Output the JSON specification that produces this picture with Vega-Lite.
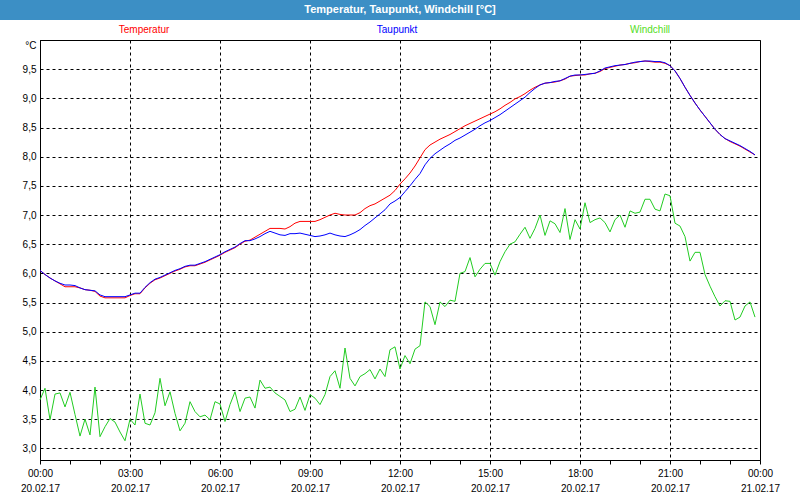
{
  "$schema": "https://vega.github.io/schema/vega-lite/v6.json",
  "background": "white",
  "padding": 0,
  "bounds": "flush",
  "center": true,
  "spacing": 0,
  "config": {"font": "Liberation Sans"},
  "datasets": {
    "messwerte": [
      {"zeit":"2017-02-20T00:00Z","Temperatur":6.05,"Taupunkt":6.05,"Windchill":3.83},
      {"zeit":"2017-02-20T00:10Z","Temperatur":5.98,"Taupunkt":5.98,"Windchill":4.03},
      {"zeit":"2017-02-20T00:20Z","Temperatur":5.92,"Taupunkt":5.92,"Windchill":3.49},
      {"zeit":"2017-02-20T00:30Z","Temperatur":5.87,"Taupunkt":5.87,"Windchill":3.93},
      {"zeit":"2017-02-20T00:40Z","Temperatur":5.82,"Taupunkt":5.83,"Windchill":3.95},
      {"zeit":"2017-02-20T00:50Z","Temperatur":5.77,"Taupunkt":5.80,"Windchill":3.71},
      {"zeit":"2017-02-20T01:00Z","Temperatur":5.77,"Taupunkt":5.80,"Windchill":3.96},
      {"zeit":"2017-02-20T01:10Z","Temperatur":5.77,"Taupunkt":5.79,"Windchill":3.58},
      {"zeit":"2017-02-20T01:20Z","Temperatur":5.75,"Taupunkt":5.75,"Windchill":3.21},
      {"zeit":"2017-02-20T01:30Z","Temperatur":5.72,"Taupunkt":5.72,"Windchill":3.50},
      {"zeit":"2017-02-20T01:40Z","Temperatur":5.71,"Taupunkt":5.71,"Windchill":3.23},
      {"zeit":"2017-02-20T01:50Z","Temperatur":5.69,"Taupunkt":5.70,"Windchill":4.05},
      {"zeit":"2017-02-20T02:00Z","Temperatur":5.61,"Taupunkt":5.63,"Windchill":3.20},
      {"zeit":"2017-02-20T02:10Z","Temperatur":5.58,"Taupunkt":5.60,"Windchill":3.37},
      {"zeit":"2017-02-20T02:20Z","Temperatur":5.58,"Taupunkt":5.60,"Windchill":3.51},
      {"zeit":"2017-02-20T02:30Z","Temperatur":5.58,"Taupunkt":5.60,"Windchill":3.45},
      {"zeit":"2017-02-20T02:40Z","Temperatur":5.58,"Taupunkt":5.60,"Windchill":3.28},
      {"zeit":"2017-02-20T02:50Z","Temperatur":5.58,"Taupunkt":5.60,"Windchill":3.13},
      {"zeit":"2017-02-20T03:00Z","Temperatur":5.62,"Taupunkt":5.63,"Windchill":3.50},
      {"zeit":"2017-02-20T03:10Z","Temperatur":5.65,"Taupunkt":5.66,"Windchill":3.40},
      {"zeit":"2017-02-20T03:20Z","Temperatur":5.65,"Taupunkt":5.66,"Windchill":3.93},
      {"zeit":"2017-02-20T03:30Z","Temperatur":5.75,"Taupunkt":5.76,"Windchill":3.43},
      {"zeit":"2017-02-20T03:40Z","Temperatur":5.83,"Taupunkt":5.84,"Windchill":3.40},
      {"zeit":"2017-02-20T03:50Z","Temperatur":5.89,"Taupunkt":5.90,"Windchill":3.61},
      {"zeit":"2017-02-20T04:00Z","Temperatur":5.92,"Taupunkt":5.93,"Windchill":4.20},
      {"zeit":"2017-02-20T04:10Z","Temperatur":5.96,"Taupunkt":5.97,"Windchill":3.73},
      {"zeit":"2017-02-20T04:20Z","Temperatur":6.00,"Taupunkt":6.01,"Windchill":3.97},
      {"zeit":"2017-02-20T04:30Z","Temperatur":6.04,"Taupunkt":6.05,"Windchill":3.60},
      {"zeit":"2017-02-20T04:40Z","Temperatur":6.07,"Taupunkt":6.08,"Windchill":3.30},
      {"zeit":"2017-02-20T04:50Z","Temperatur":6.11,"Taupunkt":6.12,"Windchill":3.43},
      {"zeit":"2017-02-20T05:00Z","Temperatur":6.13,"Taupunkt":6.14,"Windchill":3.80},
      {"zeit":"2017-02-20T05:10Z","Temperatur":6.13,"Taupunkt":6.14,"Windchill":3.63},
      {"zeit":"2017-02-20T05:20Z","Temperatur":6.16,"Taupunkt":6.17,"Windchill":3.54},
      {"zeit":"2017-02-20T05:30Z","Temperatur":6.19,"Taupunkt":6.20,"Windchill":3.57},
      {"zeit":"2017-02-20T05:40Z","Temperatur":6.23,"Taupunkt":6.24,"Windchill":3.49},
      {"zeit":"2017-02-20T05:50Z","Temperatur":6.27,"Taupunkt":6.28,"Windchill":3.80},
      {"zeit":"2017-02-20T06:00Z","Temperatur":6.31,"Taupunkt":6.32,"Windchill":3.76},
      {"zeit":"2017-02-20T06:10Z","Temperatur":6.36,"Taupunkt":6.37,"Windchill":3.46},
      {"zeit":"2017-02-20T06:20Z","Temperatur":6.40,"Taupunkt":6.41,"Windchill":3.75},
      {"zeit":"2017-02-20T06:30Z","Temperatur":6.44,"Taupunkt":6.45,"Windchill":3.97},
      {"zeit":"2017-02-20T06:40Z","Temperatur":6.50,"Taupunkt":6.51,"Windchill":3.63},
      {"zeit":"2017-02-20T06:50Z","Temperatur":6.55,"Taupunkt":6.56,"Windchill":3.86},
      {"zeit":"2017-02-20T07:00Z","Temperatur":6.57,"Taupunkt":6.56,"Windchill":3.88},
      {"zeit":"2017-02-20T07:10Z","Temperatur":6.62,"Taupunkt":6.59,"Windchill":3.69},
      {"zeit":"2017-02-20T07:20Z","Temperatur":6.67,"Taupunkt":6.63,"Windchill":4.17},
      {"zeit":"2017-02-20T07:30Z","Temperatur":6.72,"Taupunkt":6.68,"Windchill":4.03},
      {"zeit":"2017-02-20T07:40Z","Temperatur":6.77,"Taupunkt":6.72,"Windchill":4.05},
      {"zeit":"2017-02-20T07:50Z","Temperatur":6.77,"Taupunkt":6.69,"Windchill":3.95},
      {"zeit":"2017-02-20T08:00Z","Temperatur":6.77,"Taupunkt":6.66,"Windchill":3.89},
      {"zeit":"2017-02-20T08:10Z","Temperatur":6.76,"Taupunkt":6.65,"Windchill":3.83},
      {"zeit":"2017-02-20T08:20Z","Temperatur":6.80,"Taupunkt":6.68,"Windchill":3.63},
      {"zeit":"2017-02-20T08:30Z","Temperatur":6.86,"Taupunkt":6.68,"Windchill":3.67},
      {"zeit":"2017-02-20T08:40Z","Temperatur":6.89,"Taupunkt":6.69,"Windchill":3.88},
      {"zeit":"2017-02-20T08:50Z","Temperatur":6.89,"Taupunkt":6.67,"Windchill":3.65},
      {"zeit":"2017-02-20T09:00Z","Temperatur":6.89,"Taupunkt":6.65,"Windchill":3.92},
      {"zeit":"2017-02-20T09:10Z","Temperatur":6.89,"Taupunkt":6.63,"Windchill":3.86},
      {"zeit":"2017-02-20T09:20Z","Temperatur":6.92,"Taupunkt":6.64,"Windchill":3.75},
      {"zeit":"2017-02-20T09:30Z","Temperatur":6.96,"Taupunkt":6.66,"Windchill":3.92},
      {"zeit":"2017-02-20T09:40Z","Temperatur":7.00,"Taupunkt":6.69,"Windchill":4.23},
      {"zeit":"2017-02-20T09:50Z","Temperatur":7.03,"Taupunkt":6.66,"Windchill":4.33},
      {"zeit":"2017-02-20T10:00Z","Temperatur":7.01,"Taupunkt":6.64,"Windchill":4.03},
      {"zeit":"2017-02-20T10:10Z","Temperatur":7.00,"Taupunkt":6.63,"Windchill":4.72},
      {"zeit":"2017-02-20T10:20Z","Temperatur":7.00,"Taupunkt":6.66,"Windchill":4.20},
      {"zeit":"2017-02-20T10:30Z","Temperatur":7.00,"Taupunkt":6.70,"Windchill":4.07},
      {"zeit":"2017-02-20T10:40Z","Temperatur":7.04,"Taupunkt":6.75,"Windchill":4.23},
      {"zeit":"2017-02-20T10:50Z","Temperatur":7.11,"Taupunkt":6.82,"Windchill":4.28},
      {"zeit":"2017-02-20T11:00Z","Temperatur":7.16,"Taupunkt":6.88,"Windchill":4.35},
      {"zeit":"2017-02-20T11:10Z","Temperatur":7.19,"Taupunkt":6.95,"Windchill":4.19},
      {"zeit":"2017-02-20T11:20Z","Temperatur":7.24,"Taupunkt":7.02,"Windchill":4.36},
      {"zeit":"2017-02-20T11:30Z","Temperatur":7.29,"Taupunkt":7.09,"Windchill":4.23},
      {"zeit":"2017-02-20T11:40Z","Temperatur":7.34,"Taupunkt":7.19,"Windchill":4.69},
      {"zeit":"2017-02-20T11:50Z","Temperatur":7.42,"Taupunkt":7.24,"Windchill":4.74},
      {"zeit":"2017-02-20T12:00Z","Temperatur":7.53,"Taupunkt":7.30,"Windchill":4.36},
      {"zeit":"2017-02-20T12:10Z","Temperatur":7.62,"Taupunkt":7.40,"Windchill":4.59},
      {"zeit":"2017-02-20T12:20Z","Temperatur":7.72,"Taupunkt":7.50,"Windchill":4.45},
      {"zeit":"2017-02-20T12:30Z","Temperatur":7.84,"Taupunkt":7.61,"Windchill":4.70},
      {"zeit":"2017-02-20T12:40Z","Temperatur":7.98,"Taupunkt":7.71,"Windchill":4.76},
      {"zeit":"2017-02-20T12:50Z","Temperatur":8.12,"Taupunkt":7.86,"Windchill":5.51},
      {"zeit":"2017-02-20T13:00Z","Temperatur":8.20,"Taupunkt":7.97,"Windchill":5.43},
      {"zeit":"2017-02-20T13:10Z","Temperatur":8.25,"Taupunkt":8.05,"Windchill":5.12},
      {"zeit":"2017-02-20T13:20Z","Temperatur":8.30,"Taupunkt":8.11,"Windchill":5.51},
      {"zeit":"2017-02-20T13:30Z","Temperatur":8.34,"Taupunkt":8.17,"Windchill":5.43},
      {"zeit":"2017-02-20T13:40Z","Temperatur":8.38,"Taupunkt":8.22,"Windchill":5.54},
      {"zeit":"2017-02-20T13:50Z","Temperatur":8.43,"Taupunkt":8.28,"Windchill":5.52},
      {"zeit":"2017-02-20T14:00Z","Temperatur":8.48,"Taupunkt":8.32,"Windchill":6.00},
      {"zeit":"2017-02-20T14:10Z","Temperatur":8.53,"Taupunkt":8.37,"Windchill":6.03},
      {"zeit":"2017-02-20T14:20Z","Temperatur":8.57,"Taupunkt":8.42,"Windchill":6.27},
      {"zeit":"2017-02-20T14:30Z","Temperatur":8.61,"Taupunkt":8.47,"Windchill":5.94},
      {"zeit":"2017-02-20T14:40Z","Temperatur":8.65,"Taupunkt":8.53,"Windchill":6.07},
      {"zeit":"2017-02-20T14:50Z","Temperatur":8.69,"Taupunkt":8.58,"Windchill":6.17},
      {"zeit":"2017-02-20T15:00Z","Temperatur":8.73,"Taupunkt":8.62,"Windchill":6.17},
      {"zeit":"2017-02-20T15:10Z","Temperatur":8.77,"Taupunkt":8.67,"Windchill":5.97},
      {"zeit":"2017-02-20T15:20Z","Temperatur":8.82,"Taupunkt":8.72,"Windchill":6.20},
      {"zeit":"2017-02-20T15:30Z","Temperatur":8.88,"Taupunkt":8.78,"Windchill":6.37},
      {"zeit":"2017-02-20T15:40Z","Temperatur":8.93,"Taupunkt":8.84,"Windchill":6.50},
      {"zeit":"2017-02-20T15:50Z","Temperatur":8.99,"Taupunkt":8.90,"Windchill":6.54},
      {"zeit":"2017-02-20T16:00Z","Temperatur":9.03,"Taupunkt":8.96,"Windchill":6.67},
      {"zeit":"2017-02-20T16:10Z","Temperatur":9.08,"Taupunkt":9.02,"Windchill":6.79},
      {"zeit":"2017-02-20T16:20Z","Temperatur":9.14,"Taupunkt":9.10,"Windchill":6.60},
      {"zeit":"2017-02-20T16:30Z","Temperatur":9.19,"Taupunkt":9.17,"Windchill":6.77},
      {"zeit":"2017-02-20T16:40Z","Temperatur":9.23,"Taupunkt":9.23,"Windchill":7.00},
      {"zeit":"2017-02-20T16:50Z","Temperatur":9.26,"Taupunkt":9.26,"Windchill":6.65},
      {"zeit":"2017-02-20T17:00Z","Temperatur":9.27,"Taupunkt":9.27,"Windchill":6.90},
      {"zeit":"2017-02-20T17:10Z","Temperatur":9.28,"Taupunkt":9.29,"Windchill":6.85},
      {"zeit":"2017-02-20T17:20Z","Temperatur":9.30,"Taupunkt":9.30,"Windchill":6.70},
      {"zeit":"2017-02-20T17:30Z","Temperatur":9.33,"Taupunkt":9.34,"Windchill":7.11},
      {"zeit":"2017-02-20T17:40Z","Temperatur":9.38,"Taupunkt":9.38,"Windchill":6.58},
      {"zeit":"2017-02-20T17:50Z","Temperatur":9.39,"Taupunkt":9.40,"Windchill":6.92},
      {"zeit":"2017-02-20T18:00Z","Temperatur":9.40,"Taupunkt":9.40,"Windchill":6.76},
      {"zeit":"2017-02-20T18:10Z","Temperatur":9.40,"Taupunkt":9.41,"Windchill":7.21},
      {"zeit":"2017-02-20T18:20Z","Temperatur":9.42,"Taupunkt":9.42,"Windchill":6.87},
      {"zeit":"2017-02-20T18:30Z","Temperatur":9.43,"Taupunkt":9.43,"Windchill":6.92},
      {"zeit":"2017-02-20T18:40Z","Temperatur":9.46,"Taupunkt":9.47,"Windchill":6.95},
      {"zeit":"2017-02-20T18:50Z","Temperatur":9.51,"Taupunkt":9.52,"Windchill":6.87},
      {"zeit":"2017-02-20T19:00Z","Temperatur":9.53,"Taupunkt":9.54,"Windchill":6.71},
      {"zeit":"2017-02-20T19:10Z","Temperatur":9.55,"Taupunkt":9.56,"Windchill":6.92},
      {"zeit":"2017-02-20T19:20Z","Temperatur":9.57,"Taupunkt":9.57,"Windchill":7.00},
      {"zeit":"2017-02-20T19:30Z","Temperatur":9.58,"Taupunkt":9.58,"Windchill":6.79},
      {"zeit":"2017-02-20T19:40Z","Temperatur":9.60,"Taupunkt":9.60,"Windchill":7.07},
      {"zeit":"2017-02-20T19:50Z","Temperatur":9.61,"Taupunkt":9.62,"Windchill":7.03},
      {"zeit":"2017-02-20T20:00Z","Temperatur":9.63,"Taupunkt":9.63,"Windchill":7.05},
      {"zeit":"2017-02-20T20:10Z","Temperatur":9.64,"Taupunkt":9.64,"Windchill":7.27},
      {"zeit":"2017-02-20T20:20Z","Temperatur":9.63,"Taupunkt":9.64,"Windchill":7.27},
      {"zeit":"2017-02-20T20:30Z","Temperatur":9.62,"Taupunkt":9.63,"Windchill":7.10},
      {"zeit":"2017-02-20T20:40Z","Temperatur":9.62,"Taupunkt":9.63,"Windchill":7.07},
      {"zeit":"2017-02-20T20:50Z","Temperatur":9.60,"Taupunkt":9.61,"Windchill":7.36},
      {"zeit":"2017-02-20T21:00Z","Temperatur":9.56,"Taupunkt":9.56,"Windchill":7.33},
      {"zeit":"2017-02-20T21:10Z","Temperatur":9.47,"Taupunkt":9.47,"Windchill":6.86},
      {"zeit":"2017-02-20T21:20Z","Temperatur":9.34,"Taupunkt":9.34,"Windchill":6.81},
      {"zeit":"2017-02-20T21:30Z","Temperatur":9.19,"Taupunkt":9.19,"Windchill":6.63},
      {"zeit":"2017-02-20T21:40Z","Temperatur":9.05,"Taupunkt":9.05,"Windchill":6.21},
      {"zeit":"2017-02-20T21:50Z","Temperatur":8.92,"Taupunkt":8.92,"Windchill":6.36},
      {"zeit":"2017-02-20T22:00Z","Temperatur":8.80,"Taupunkt":8.80,"Windchill":6.36},
      {"zeit":"2017-02-20T22:10Z","Temperatur":8.69,"Taupunkt":8.69,"Windchill":5.98},
      {"zeit":"2017-02-20T22:20Z","Temperatur":8.58,"Taupunkt":8.58,"Windchill":5.78},
      {"zeit":"2017-02-20T22:30Z","Temperatur":8.47,"Taupunkt":8.47,"Windchill":5.60},
      {"zeit":"2017-02-20T22:40Z","Temperatur":8.38,"Taupunkt":8.38,"Windchill":5.44},
      {"zeit":"2017-02-20T22:50Z","Temperatur":8.31,"Taupunkt":8.31,"Windchill":5.53},
      {"zeit":"2017-02-20T23:00Z","Temperatur":8.26,"Taupunkt":8.27,"Windchill":5.52},
      {"zeit":"2017-02-20T23:10Z","Temperatur":8.22,"Taupunkt":8.23,"Windchill":5.20},
      {"zeit":"2017-02-20T23:20Z","Temperatur":8.18,"Taupunkt":8.19,"Windchill":5.25},
      {"zeit":"2017-02-20T23:30Z","Temperatur":8.13,"Taupunkt":8.14,"Windchill":5.44},
      {"zeit":"2017-02-20T23:40Z","Temperatur":8.08,"Taupunkt":8.09,"Windchill":5.51},
      {"zeit":"2017-02-20T23:50Z","Temperatur":8.03,"Taupunkt":8.03,"Windchill":5.25}
    ]
  },
  "resolve": {"scale": {"x": "independent", "y": "independent", "color": "independent"}},
  "vconcat": [
    {
      "width": 800,
      "height": 20,
      "view": {"fill": "#3c8fc5", "stroke": null},
      "data": {"values": [{"titel": "Temperatur, Taupunkt, Windchill [°C]"}]},
      "mark": {"type": "text", "color": "white", "font": "Liberation Sans", "fontSize": 11, "fontWeight": "bold"},
      "encoding": {"text": {"field": "titel"}}
    },
    {
      "width": 800,
      "height": 20,
      "view": {"stroke": null},
      "data": {"values": [{"serie": "Temperatur"}, {"serie": "Taupunkt"}, {"serie": "Windchill"}]},
      "mark": {"type": "text", "font": "Liberation Sans", "fontSize": 10},
      "encoding": {
        "x": {"field": "serie", "type": "nominal", "sort": null, "axis": null, "scale": {"type": "point", "padding": 0.581, "align": 0.49}},
        "color": {"field": "serie", "type": "nominal", "legend": null, "scale": {"domain": ["Temperatur", "Taupunkt", "Windchill"], "range": ["#ff0000", "#0000ff", "#55dd22"]}},
        "text": {"field": "serie"}
      }
    },
    {
      "width": 720,
      "height": 420,
      "view": {"fill": "white", "stroke": "black", "strokeWidth": 1},
      "data": {"name": "messwerte"},
      "transform": [{"fold": ["Temperatur", "Taupunkt", "Windchill"], "as": ["serie", "wert"]}],
      "mark": {"type": "line", "strokeWidth": 1},
      "encoding": {
        "x": {
          "field": "zeit", "type": "temporal",
          "scale": {"type": "utc", "domain": [1487548800000, 1487635200000], "nice": false},
          "axis": {
            "title": null,
            "values": [1487548800000,1487552400000,1487556000000,1487559600000,1487563200000,1487566800000,1487570400000,1487574000000,1487577600000,1487581200000,1487584800000,1487588400000,1487592000000,1487595600000,1487599200000,1487602800000,1487606400000,1487610000000,1487613600000,1487617200000,1487620800000,1487624400000,1487628000000,1487631600000,1487635200000],
            "grid": true,
            "gridColor": "black",
            "gridDash": [3, 3],
            "gridWidth": 1,
            "gridOpacity": {"condition": {"test": "utchours(datum.value) % 3 === 0", "value": 1}, "value": 0},
            "domainColor": "black",
            "tickColor": "black",
            "tickSize": 4,
            "labelExpr": "utchours(datum.value) % 3 === 0 ? [utcFormat(datum.value, '%H:%M'), utcFormat(datum.value, '%d.%m.%y')] : ''",
            "labelFont": "Liberation Sans",
            "labelFontSize": 10,
            "labelColor": "black",
            "labelAngle": 0,
            "labelPadding": 4,
            "labelLineHeight": 15,
            "labelFlush": false,
            "labelOverlap": false,
            "labelBound": false
          }
        },
        "y": {
          "field": "wert", "type": "quantitative",
          "scale": {"domain": [2.8, 10], "nice": false, "zero": false},
          "axis": {
            "title": null,
            "values": [3, 3.5, 4, 4.5, 5, 5.5, 6, 6.5, 7, 7.5, 8, 8.5, 9, 9.5, 10],
            "grid": true,
            "gridColor": "black",
            "gridDash": [3, 3],
            "gridWidth": 1,
            "domainColor": "black",
            "ticks": false,
            "labelExpr": "datum.value >= 10 ? '°C' : replace(format(datum.value, '.1f'), '.', ',')",
            "labelBaseline": {"condition": {"test": "datum.value >= 10", "value": "top"}, "value": "middle"},
            "labelFont": "Liberation Sans",
            "labelFontSize": 10,
            "labelColor": "black",
            "labelPadding": 4,
            "labelFlush": false,
            "labelOverlap": false,
            "labelBound": false
          }
        },
        "color": {"field": "serie", "type": "nominal", "legend": null, "scale": {"domain": ["Temperatur", "Taupunkt", "Windchill"], "range": ["#ff0000", "#0000ff", "#22cc22"]}}
      }
    }
  ]
}
